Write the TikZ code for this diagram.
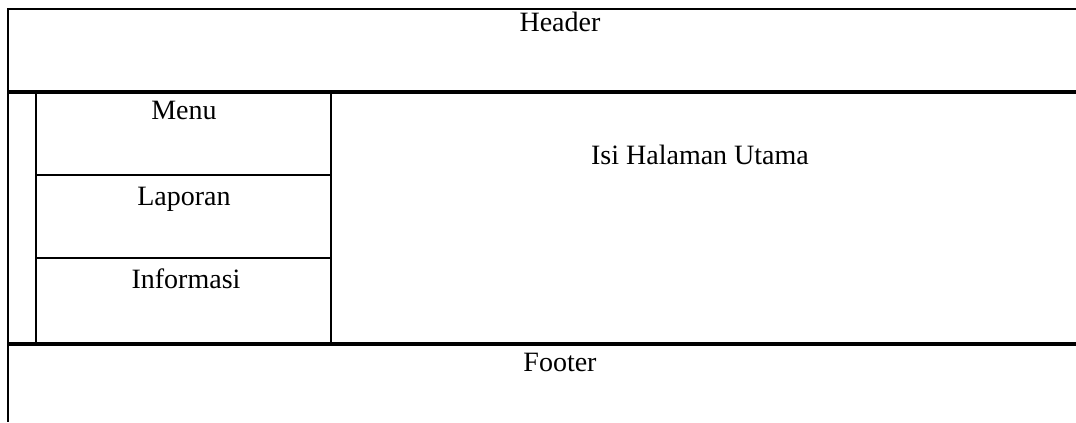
\documentclass[tikz,border=0pt]{standalone}
\usepackage{fontspec}
\setmainfont{Liberation Serif}

\begin{document}
\begin{tikzpicture}[x=0.75pt,y=-0.75pt,
        garis/.style={line width=1.8pt},
        garistebal/.style={line width=2.6pt},
        label/.style={font=\fontsize{21}{25}\selectfont, inner sep=0pt, anchor=base}]
    \useasboundingbox (0,0) rectangle (1076,423);

    % Kerangka halaman
    \draw[garis] (1076,9) -- (8,9) -- (8,422);
    \draw[garistebal] (8,92) -- (1076,92);
    \draw[garistebal] (8,344) -- (1076,344);

    % Kolom menu di kiri
    \draw[garis] (36,92) -- (36,344);
    \draw[garis] (331,92) -- (331,344);
    \draw[garis] (36,175) -- (331,175);
    \draw[garis] (36,258) -- (331,258);

    % Tulisan
    \node[label] (header) at (560,32) {Header};
    \node[label] (menu) at (184,120) {Menu};
    \node[label] (laporan) at (184,206) {Laporan};
    \node[label] (informasi) at (186,289) {Informasi};
    \node[label] (isi) at (700,165) {Isi Halaman Utama};
    \node[label] (footer) at (560,372) {Footer};
\end{tikzpicture}
\end{document}
